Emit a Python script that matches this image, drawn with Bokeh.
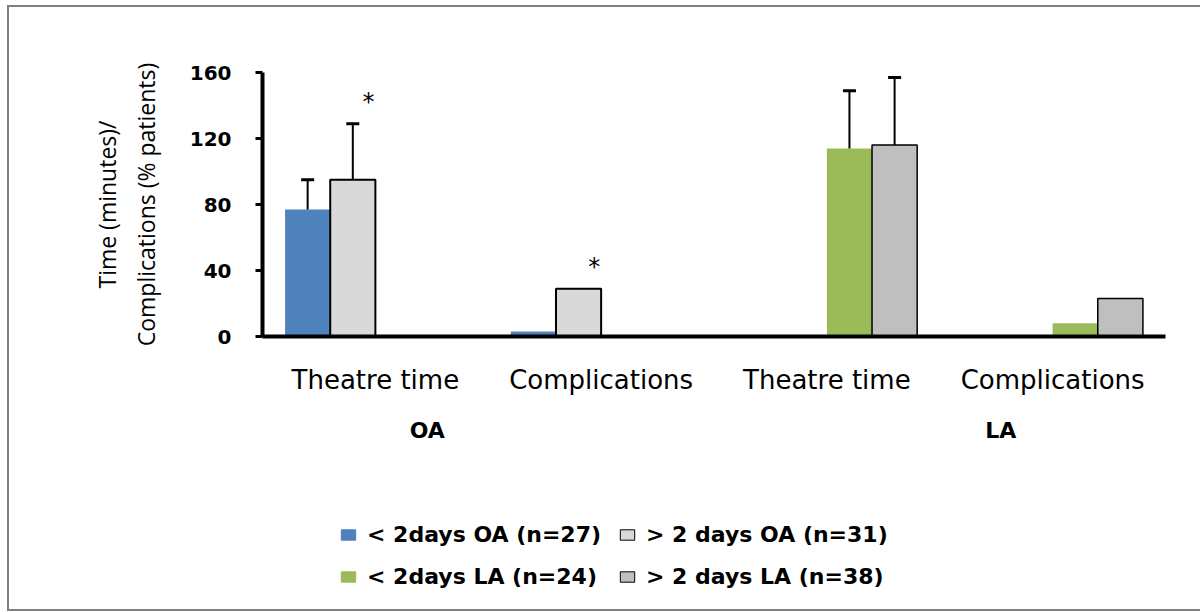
from bokeh.plotting import figure
from bokeh.layouts import column
from bokeh.models import (Range1d, FixedTicker, Legend, LegendItem, LinearAxis,
                          Whisker, TeeHead, ColumnDataSource, InlineStyleSheet)
from bokeh.embed import file_html
from bokeh.resources import INLINE
from bokeh.core.properties import value

# ---------------- data ----------------
categories = ["Theatre time", "Complications", "Theatre time", "Complications"]
group_names = ["OA", "LA"]
series_names = ["< 2days OA (n=27)", "> 2 days OA (n=31)",
                "< 2days LA (n=24)", "> 2 days LA (n=38)"]
lt2_oa = [77, 3, 0, 0]
gt2_oa = [95, 29, 0, 0]
lt2_la = [0, 0, 114, 8]
gt2_la = [0, 0, 116, 23]
lt2_oa_sd = [18, 0, 0, 0]
gt2_oa_sd = [34, 0, 0, 0]
lt2_la_sd = [0, 0, 35, 0]
gt2_la_sd = [0, 0, 41, 0]
y_ticks = [0, 40, 80, 120, 160]
# significance markers: (series index, category index)
star_series = [1, 1]
star_cats = [0, 1]

# ---------------- styles / layout ----------------
colors = ["#4F81BD", "#D9D9D9", "#9BBB59", "#BFBFBF"]
outline = [None, "black", None, "black"]
outline_w = [0, 2, 0, 1.5]
BAR_W = 0.2
GROUP_LABEL_X = [0.73, 3.27]   # where the OA / LA captions sit on the x scale

W = 1200
H1 = 455
H2 = 156

p = figure(width=W, height=H1, output_backend="svg", toolbar_location=None,
           x_range=Range1d(0, len(categories)), y_range=Range1d(0, 160),
           min_border_left=262, min_border_right=W - 1165, min_border_top=72,
           min_border_bottom=H1 - 336)
p.background_fill_color = "white"
p.border_fill_color = "white"
p.outline_line_color = None
p.grid.visible = False

values = [lt2_oa, gt2_oa, lt2_la, gt2_la]
sds = [lt2_oa_sd, gt2_oa_sd, lt2_la_sd, gt2_la_sd]

def xpos(cat_idx, s_idx):
    return cat_idx + 0.5 + (s_idx - 1.5) * BAR_W

for s, (vals, sd) in enumerate(zip(values, sds)):
    xs = [xpos(i, s) for i in range(len(categories))]
    src = ColumnDataSource(dict(x=xs, top=vals))
    p.vbar(x="x", top="top", width=BAR_W, bottom=0, source=src,
           fill_color=colors[s], line_color=outline[s], line_width=outline_w[s])
    ex, lo, up = [], [], []
    for i, (v, e) in enumerate(zip(vals, sd)):
        if e > 0:
            ex.append(xs[i]); lo.append(v); up.append(v + e)
    if ex:
        wsrc = ColumnDataSource(dict(base=ex, lower=lo, upper=up))
        p.add_layout(Whisker(base="base", lower="lower", upper="upper", source=wsrc,
                             line_color="black", line_width=2,
                             upper_head=TeeHead(size=13, line_width=3, line_color="black"),
                             lower_head=None, level="glyph"))

# significance stars
sx = [xpos(c, s) + 0.07 for s, c in zip(star_series, star_cats)]
sy = [values[s][c] + sds[s][c] + 13 for s, c in zip(star_series, star_cats)]
p.text(x=sx, y=sy, text=["*"] * len(sx), text_font=value("DejaVu Sans"),
       text_font_size="24px", text_align="center", text_baseline="middle",
       text_color="black")

# y axis
ya = p.yaxis[0]
ya.ticker = FixedTicker(ticks=y_ticks)
ya.axis_line_width = 4
ya.axis_line_color = "black"
ya.major_tick_line_width = 3
ya.major_tick_out = 7
ya.major_tick_in = 0
ya.minor_tick_line_color = None
ya.major_label_text_font = "DejaVu Sans"
ya.major_label_text_font_style = "bold"
ya.major_label_text_font_size = "20px"
ya.major_label_text_color = "black"
ya.major_label_standoff = 24
ya.axis_label = "Time (minutes)/\nComplications (% patients)"
ya.axis_label_text_font = "Open Sans"
ya.axis_label_text_font_style = "normal"
ya.axis_label_text_font_size = "23px"
ya.axis_label_text_color = "black"
ya.axis_label_standoff = 25
ya.axis_label_text_line_height = 1.2

# x axis (categories)
xa = p.xaxis[0]
xa.ticker = FixedTicker(ticks=[i + 0.5 for i in range(len(categories))])
xa.major_label_overrides = {i + 0.5: c for i, c in enumerate(categories)}
xa.axis_line_width = 4
xa.axis_line_color = "black"
xa.major_tick_line_color = None
xa.major_tick_out = 0
xa.minor_tick_line_color = None
xa.major_label_text_font = "DejaVu Sans"
xa.major_label_text_font_size = "26px"
xa.major_label_text_color = "black"
xa.major_label_standoff = 28

# second x axis carrying the OA / LA group captions
ga = LinearAxis(ticker=FixedTicker(ticks=GROUP_LABEL_X),
                major_label_overrides={gx: g for gx, g in zip(GROUP_LABEL_X, group_names)},
                axis_line_color=None, major_tick_line_color=None, major_tick_out=0,
                minor_tick_line_color=None, major_label_standoff=20,
                major_label_text_font="DejaVu Sans", major_label_text_font_style="bold",
                major_label_text_font_size="22px", major_label_text_color="black")
p.add_layout(ga, "below")

# ---------------- legend panel ----------------
p2 = figure(width=W, height=H2, output_backend="svg", toolbar_location=None,
            x_range=Range1d(0, 1), y_range=Range1d(0, 1),
            x_axis_location=None, y_axis_location=None,
            min_border_left=0, min_border_right=0, min_border_top=0,
            min_border_bottom=0)
p2.outline_line_color = None
p2.grid.visible = False
p2.background_fill_color = "white"
p2.border_fill_color = "white"
items = []
for s in range(len(series_names)):
    dummy = ColumnDataSource(dict(x=[float("nan")], top=[float("nan")]))
    r = p2.vbar(x="x", top="top", width=0.1, source=dummy, fill_color=colors[s],
                line_color=outline[s] if outline[s] else colors[s], line_width=1)
    items.append(LegendItem(label=series_names[s], renderers=[r]))
legend = Legend(items=items, orientation="horizontal", ncols=2,
                location=(77, 22), padding=0, margin=0,
                border_line_color=None, background_fill_alpha=0,
                glyph_width=18, glyph_height=13, label_standoff=10,
                label_height=24, spacing=17,
                label_text_font="DejaVu Sans", label_text_font_style="bold",
                label_text_font_size="22px", label_text_color="black")
p2.add_layout(legend, "center")

border_css = InlineStyleSheet(css="""
:host { position: relative; }
:host::after {
  content: ""; position: absolute; box-sizing: border-box;
  left: 7px; top: 5px; width: 1193px; height: 606px;
  border: 2.5px solid #808080; border-right: none; pointer-events: none;
}
""")
layout = column(p, p2, spacing=0, stylesheets=[border_css])

open("out.html", "w").write(file_html(layout, INLINE))
